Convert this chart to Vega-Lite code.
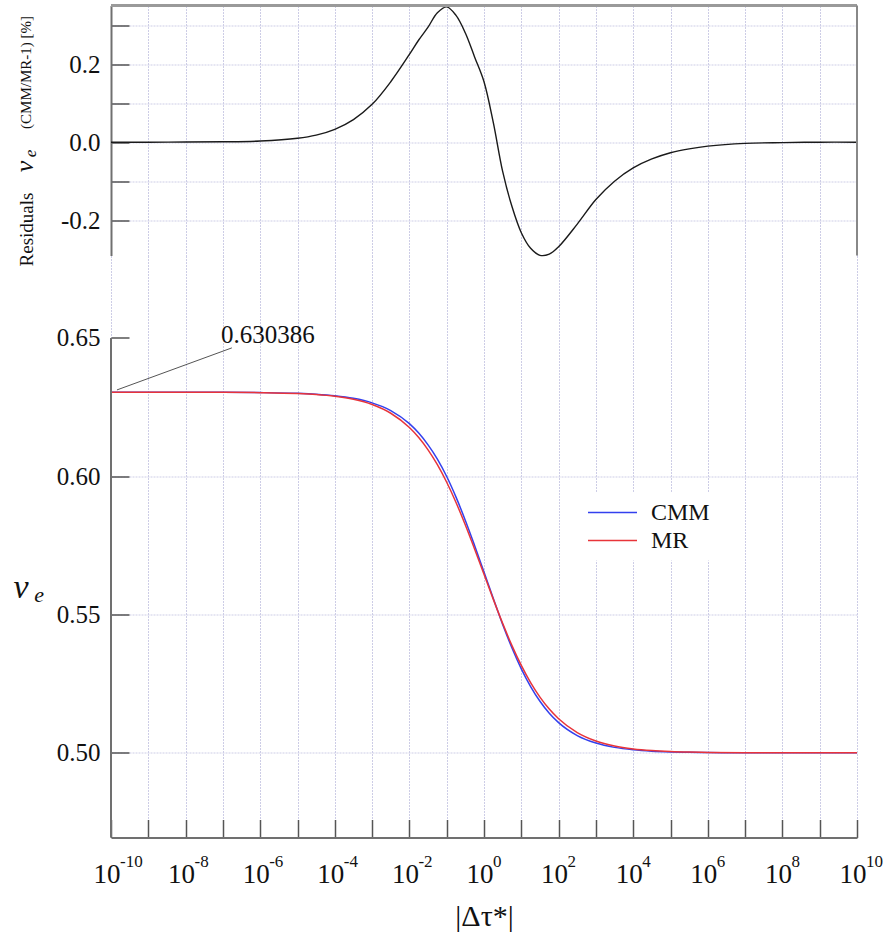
{
  "$schema": "https://vega.github.io/schema/vega-lite/v6.json",
  "padding": {"left": 12, "top": 3.5, "right": 0, "bottom": 0},
  "background": "white",
  "bounds": "flush",
  "spacing": 0,
  "datasets": {
    "curves": [
      {"tau": 1e-10, "residual": 0, "MR": 0.630384, "CMM": 0.630384},
      {"tau": 1e-9, "residual": 0, "MR": 0.630380, "CMM": 0.630380},
      {"tau": 1e-8, "residual": 0.0005, "MR": 0.630369, "CMM": 0.630372},
      {"tau": 1e-7, "residual": 0.001, "MR": 0.630334, "CMM": 0.630340},
      {"tau": 1e-6, "residual": 0.003, "MR": 0.630226, "CMM": 0.630245},
      {"tau": 1e-5, "residual": 0.010, "MR": 0.629896, "CMM": 0.629959},
      {"tau": 3.1623e-5, "residual": 0.018, "MR": 0.629531, "CMM": 0.629644},
      {"tau": 1e-4, "residual": 0.033, "MR": 0.628896, "CMM": 0.629104},
      {"tau": 3.1623e-4, "residual": 0.058, "MR": 0.627799, "CMM": 0.628163},
      {"tau": 1e-3, "residual": 0.097, "MR": 0.625926, "CMM": 0.626533},
      {"tau": 3.1623e-3, "residual": 0.155, "MR": 0.622769, "CMM": 0.623734},
      {"tau": 1e-2, "residual": 0.225, "MR": 0.617612, "CMM": 0.619002},
      {"tau": 1.7783e-2, "residual": 0.262, "MR": 0.614004, "CMM": 0.615600},
      {"tau": 3.1623e-2, "residual": 0.295, "MR": 0.609556, "CMM": 0.611336},
      {"tau": 5.6234e-2, "residual": 0.332, "MR": 0.604178, "CMM": 0.606172},
      {"tau": 0.1, "residual": 0.347, "MR": 0.597824, "CMM": 0.599898},
      {"tau": 0.17783, "residual": 0.325, "MR": 0.590519, "CMM": 0.592438},
      {"tau": 0.31623, "residual": 0.28, "MR": 0.582379, "CMM": 0.584010},
      {"tau": 0.56234, "residual": 0.218, "MR": 0.573621, "CMM": 0.574871},
      {"tau": 1, "residual": 0.155, "MR": 0.564541, "CMM": 0.565416},
      {"tau": 1.7783, "residual": 0.05, "MR": 0.555487, "CMM": 0.555765},
      {"tau": 3.1623, "residual": -0.075, "MR": 0.546801, "CMM": 0.546391},
      {"tau": 5.6234, "residual": -0.165, "MR": 0.538769, "CMM": 0.537907},
      {"tau": 10, "residual": -0.232, "MR": 0.531595, "CMM": 0.530372},
      {"tau": 17.783, "residual": -0.272, "MR": 0.525381, "CMM": 0.523962},
      {"tau": 31.623, "residual": -0.290, "MR": 0.520140, "CMM": 0.518637},
      {"tau": 56.234, "residual": -0.287, "MR": 0.515818, "CMM": 0.514322},
      {"tau": 100, "residual": -0.268, "MR": 0.512320, "CMM": 0.510927},
      {"tau": 316.23, "residual": -0.210, "MR": 0.507334, "CMM": 0.506258},
      {"tau": 1000, "residual": -0.147, "MR": 0.504293, "CMM": 0.503552},
      {"tau": 3162.3, "residual": -0.10, "MR": 0.502487, "CMM": 0.501985},
      {"tau": 1e4, "residual": -0.066, "MR": 0.501433, "CMM": 0.501102},
      {"tau": 31623, "residual": -0.043, "MR": 0.500822, "CMM": 0.500607},
      {"tau": 1e5, "residual": -0.027, "MR": 0.500471, "CMM": 0.500336},
      {"tau": 316228, "residual": -0.017, "MR": 0.500269, "CMM": 0.500184},
      {"tau": 1e6, "residual": -0.010, "MR": 0.500154, "CMM": 0.500104},
      {"tau": 1e7, "residual": -0.003, "MR": 0.500050, "CMM": 0.500035},
      {"tau": 1e8, "residual": -0.001, "MR": 0.500016, "CMM": 0.500011},
      {"tau": 1e9, "residual": 0, "MR": 0.500005, "CMM": 0.500005},
      {"tau": 1e10, "residual": 0, "MR": 0.500002, "CMM": 0.500002}
    ],
    "exponents": [
      {"tau": 1e-10, "exponent": "-10"},
      {"tau": 1e-8, "exponent": "-8"},
      {"tau": 1e-6, "exponent": "-6"},
      {"tau": 1e-4, "exponent": "-4"},
      {"tau": 1e-2, "exponent": "-2"},
      {"tau": 1, "exponent": "0"},
      {"tau": 1e2, "exponent": "2"},
      {"tau": 1e4, "exponent": "4"},
      {"tau": 1e6, "exponent": "6"},
      {"tau": 1e8, "exponent": "8"},
      {"tau": 1e10, "exponent": "10"}
    ]
  },
  "vconcat": [
    {
      "width": 746,
      "height": 250,
      "layer": [
        {
          "data": {"name": "curves"},
          "mark": {"type": "line", "color": "#1a1a1a", "strokeWidth": 1.4, "interpolate": "catmull-rom"},
          "encoding": {
            "x": {
              "field": "tau", "type": "quantitative",
              "scale": {"type": "log", "domain": [1e-10, 1e10], "nice": false},
              "axis": {"title": null, "labels": false, "ticks": false, "domain": false, "grid": true,
                       "values": [1e-10,1e-9,1e-8,1e-7,1e-6,1e-5,1e-4,1e-3,1e-2,1e-1,1,10,100,1000,1e4,1e5,1e6,1e7,1e8,1e9,1e10]}
            },
            "y": {
              "field": "residual", "type": "quantitative",
              "scale": {"domain": [-0.2905, 0.3505], "nice": false, "zero": false},
              "axis": {
                "title": null,
                "values": [-0.2, -0.1, 0, 0.1, 0.2, 0.3],
                "labelExpr": "abs(round(datum.value*10)) % 2 == 1 ? '' : replace(format(datum.value, '.1f'), '\u2212', '-')",
                "tickSize": -18, "labelPadding": 29, "labelFontSize": 25,
                "domain": true, "grid": true
              }
            }
          }
        },
        {
          "data": {"values": [{}]},
          "mark": {"type": "rule", "color": "#9a9a9a", "strokeWidth": 3},
          "encoding": {
            "x": {"datum": 1e-10, "type": "quantitative"},
            "x2": {"datum": 1e10},
            "y": {"datum": 0.3505, "type": "quantitative"}
          }
        },
        {
          "data": {"values": [{}]},
          "mark": {"type": "rule", "color": "#888888", "strokeWidth": 2},
          "encoding": {
            "x": {"datum": 1e10, "type": "quantitative"},
            "y": {"datum": -0.2905, "type": "quantitative"},
            "y2": {"datum": 0.3505}
          }
        },
        {
          "data": {"values": [{}]},
          "mark": {"type": "text", "text": "Residuals", "angle": 270, "align": "center", "baseline": "alphabetic", "font": "Liberation Serif", "fontSize": 19, "color": "#111111"},
          "encoding": {
            "x": {"datum": 8.11e-13, "type": "quantitative"},
            "y": {"datum": -0.2238, "type": "quantitative"}
          }
        },
        {
          "data": {"values": [{}]},
          "mark": {"type": "text", "text": "v", "angle": 270, "align": "center", "baseline": "alphabetic", "font": "Liberation Serif", "fontStyle": "italic", "fontSize": 26, "color": "#111111"},
          "encoding": {
            "x": {"datum": 8.11e-13, "type": "quantitative"},
            "y": {"datum": -0.0623, "type": "quantitative"}
          }
        },
        {
          "data": {"values": [{}]},
          "mark": {"type": "text", "text": "e", "angle": 270, "align": "center", "baseline": "alphabetic", "font": "Liberation Serif", "fontStyle": "italic", "fontSize": 17, "color": "#111111"},
          "encoding": {
            "x": {"datum": 1.0e-12, "type": "quantitative"},
            "y": {"datum": -0.029, "type": "quantitative"}
          }
        },
        {
          "data": {"values": [{}]},
          "mark": {"type": "text", "text": "(CMM/MR-1) [%]", "angle": 270, "align": "center", "baseline": "alphabetic", "font": "Liberation Serif", "fontSize": 15, "color": "#111111"},
          "encoding": {
            "x": {"datum": 7.16e-13, "type": "quantitative"},
            "y": {"datum": 0.1787, "type": "quantitative"}
          }
        }
      ]
    },
    {
      "width": 746,
      "height": 582,
      "layer": [
        {
          "data": {"name": "curves"},
          "transform": [{"fold": ["CMM", "MR"], "as": ["series", "ve"]}],
          "mark": {"type": "line", "strokeWidth": 1.5, "interpolate": "monotone"},
          "encoding": {
            "x": {
              "field": "tau", "type": "quantitative",
              "scale": {"type": "log", "domain": [1e-10, 1e10], "nice": false},
              "axis": {
                "title": "|\u0394\u03c4*|",
                "values": [1e-10,1e-9,1e-8,1e-7,1e-6,1e-5,1e-4,1e-3,1e-2,1e-1,1,10,100,1000,1e4,1e5,1e6,1e7,1e8,1e9,1e10],
                "labelExpr": "round(log(datum.value)/LN10) % 2 == 0 ? '10' : ''",
                "labelAlign": "right", "labelOffset": 9,
                "tickSize": -18, "labelPadding": 63, "labelBaseline": "alphabetic", "labelFontSize": 27,
                "titleFontSize": 30, "titleFontWeight": "normal", "titleY": 88, "titleBaseline": "alphabetic",
                "grid": true, "domain": true
              }
            },
            "y": {
              "field": "ve", "type": "quantitative",
              "scale": {"domain": [0.4694, 0.6798], "nice": false, "zero": false},
              "axis": {
                "title": null,
                "values": [0.5, 0.55, 0.6, 0.65],
                "format": ".2f",
                "tickSize": -18, "labelPadding": 29, "labelFontSize": 25,
                "domain": false, "grid": true,
                "gridOpacity": {"condition": {"test": "datum.value > 0.62", "value": 0}, "value": 1}
              }
            },
            "color": {
              "field": "series", "type": "nominal",
              "scale": {"domain": ["CMM", "MR"], "range": ["#3340ee", "#e8343a"]},
              "legend": {
                "title": null, "orient": "none", "legendX": 481.5, "legendY": 487,
                "symbolType": "M-2.45,0H2.45", "symbolSize": 400, "symbolStrokeWidth": 1.5,
                "labelFont": "Liberation Serif", "labelFontSize": 24, "labelColor": "#111111",
                "labelOffset": 26.5, "fillColor": "white", "padding": 8, "rowPadding": 4
              }
            }
          }
        },
        {
          "data": {"name": "exponents"},
          "mark": {"type": "text", "align": "left", "baseline": "alphabetic", "dx": 9, "font": "Liberation Serif", "fontSize": 17, "color": "#111111"},
          "encoding": {
            "x": {"field": "tau", "type": "quantitative"},
            "y": {"datum": 0.4587, "type": "quantitative"},
            "text": {"field": "exponent"}
          }
        },
        {
          "data": {"values": [{}]},
          "mark": {"type": "rule", "color": "#707070", "strokeWidth": 2},
          "encoding": {
            "x": {"datum": 1e-10, "type": "quantitative"},
            "y": {"datum": 0.4694, "type": "quantitative"},
            "y2": {"datum": 0.65}
          }
        },
        {
          "data": {"values": [{}]},
          "mark": {"type": "rule", "color": "#555555", "strokeWidth": 1},
          "encoding": {
            "x": {"datum": 1.445e-10, "type": "quantitative"},
            "y": {"datum": 0.6312, "type": "quantitative"},
            "x2": {"datum": 1.738e-7},
            "y2": {"datum": 0.6464}
          }
        },
        {
          "data": {"values": [{}]},
          "mark": {"type": "text", "text": "0.630386", "align": "left", "baseline": "alphabetic", "font": "Liberation Serif", "fontSize": 25, "color": "#111111"},
          "encoding": {
            "x": {"datum": 8.91e-8, "type": "quantitative"},
            "y": {"datum": 0.6482, "type": "quantitative"}
          }
        },
        {
          "data": {"values": [{}]},
          "mark": {"type": "text", "text": "v", "align": "center", "baseline": "alphabetic", "font": "Liberation Serif", "fontStyle": "italic", "fontSize": 34, "color": "#111111"},
          "encoding": {
            "x": {"datum": 3.86e-13, "type": "quantitative"},
            "y": {"datum": 0.5559, "type": "quantitative"}
          }
        },
        {
          "data": {"values": [{}]},
          "mark": {"type": "text", "text": "e", "align": "center", "baseline": "alphabetic", "font": "Liberation Serif", "fontStyle": "italic", "fontSize": 22, "color": "#111111"},
          "encoding": {
            "x": {"datum": 1.175e-12, "type": "quantitative"},
            "y": {"datum": 0.5545, "type": "quantitative"}
          }
        }
      ]
    }
  ],
  "config": {
    "view": {"stroke": null},
    "axis": {
      "labelFont": "Liberation Serif", "labelColor": "#111111",
      "titleFont": "Liberation Serif", "titleColor": "#111111",
      "gridColor": "#cdcde6", "gridDash": [2, 1], "gridWidth": 1,
      "tickColor": "#555555", "tickWidth": 1.5,
      "domainColor": "#707070", "domainWidth": 2,
      "labelFlush": false, "labelOverlap": false, "labelBound": false
    }
  }
}
